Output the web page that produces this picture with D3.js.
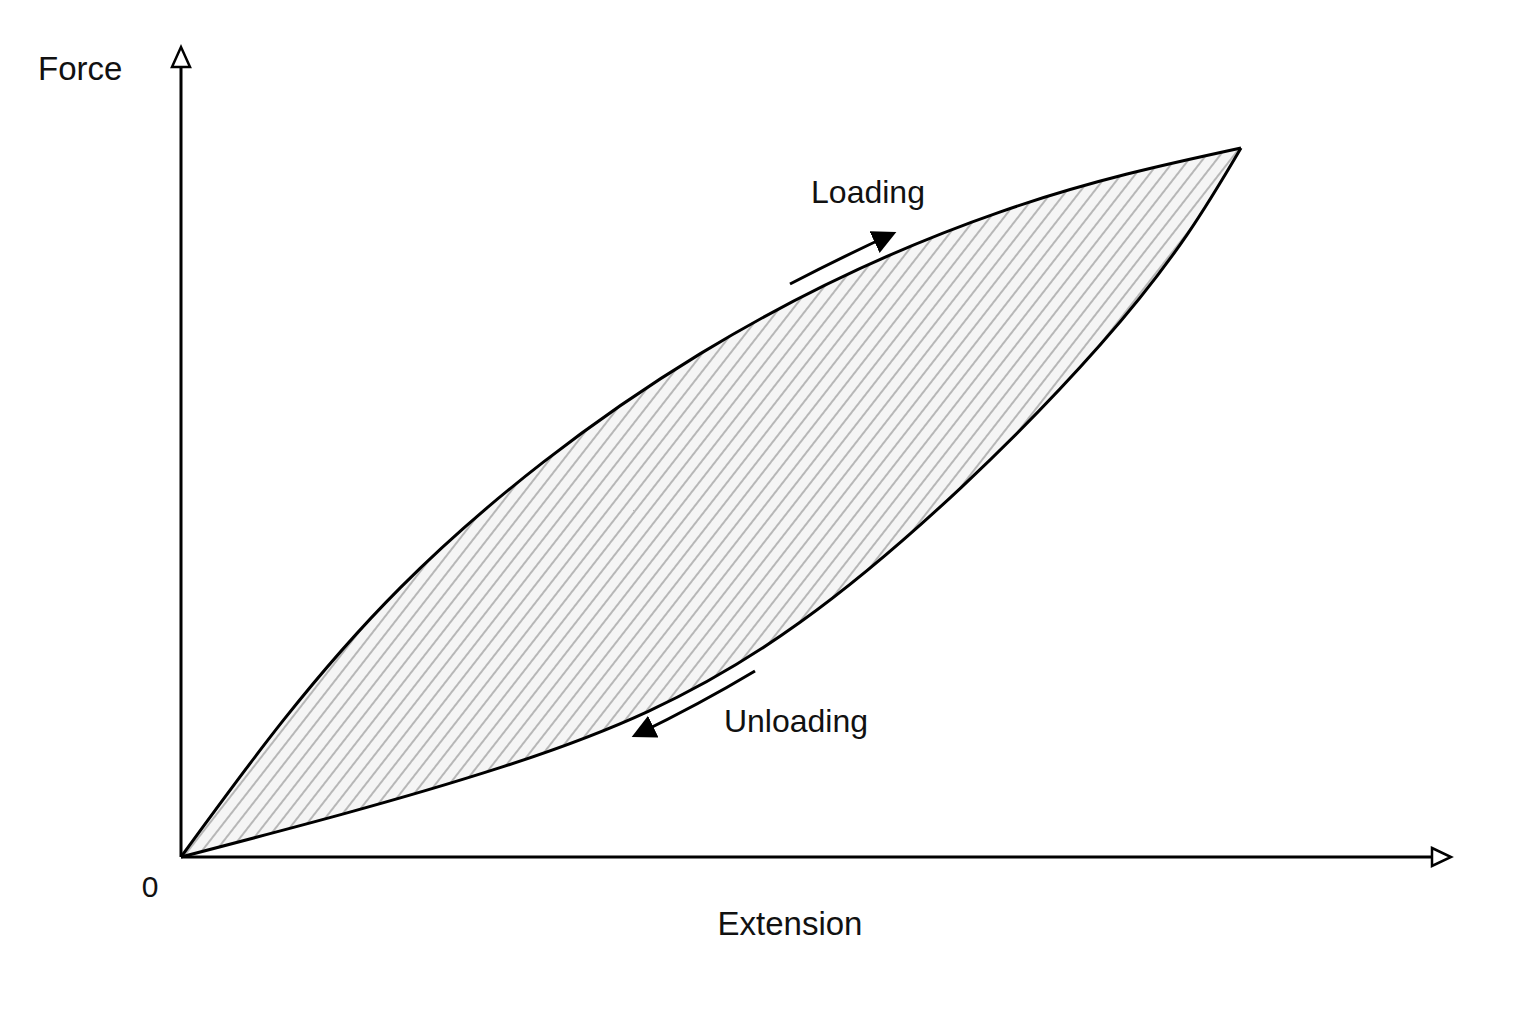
<!DOCTYPE html>
<html><head><meta charset="utf-8">
<script src="https://cdn.jsdelivr.net/npm/d3@7"></script>
<style>body{margin:0;background:#fff}text{font-family:"Liberation Sans",Arial,sans-serif;fill:#111}</style>
</head><body><svg id="c" width="1536" height="1024"></svg>
<script>
const loadingX=[0,20.7,49.0,77.3,100];
const loadingY=[0,38.0,71.0,91.0,100];
const unloadingX=[100,86.7,58.4,30.1,0];
const unloadingY=[100,72.2,33.1,12.6,0];
const labels={x:"Extension",y:"Force",origin:"0",load:"Loading",unload:"Unloading"};

const svg=d3.select("#c");
const x=d3.scaleLinear().domain([0,100]).range([181,1241]);
const y=d3.scaleLinear().domain([0,100]).range([857,148]);
const defs=svg.append("defs");
const pat=defs.append("pattern").attr("id","h").attr("patternUnits","userSpaceOnUse")
 .attr("width",11).attr("height",11).attr("patternTransform","rotate(38)");
pat.append("rect").attr("width",11).attr("height",11).attr("fill","#f5f5f5");
pat.append("line").attr("x1",1).attr("x2",1).attr("y1",0).attr("y2",11).attr("stroke","#a8a8a8").attr("stroke-width",1.6);
defs.append("marker").attr("id","ah").attr("viewBox","0 0 10 10").attr("refX",8).attr("refY",5)
 .attr("markerWidth",24).attr("markerHeight",24).attr("markerUnits","userSpaceOnUse").attr("orient","auto")
 .append("path").attr("d","M0,0L10,5L0,10z").attr("fill","#000");

const up=loadingX.map((v,i)=>[x(v),y(loadingY[i])]);
const dn=unloadingX.map((v,i)=>[x(v),y(unloadingY[i])]);
const line=d3.line().curve(d3.curveNatural);
svg.append("path").attr("d",line(up)+"L"+line(dn).slice(1)+"Z").attr("fill","url(#h)").attr("stroke","none");
svg.append("path").attr("d",line(up)).attr("fill","none").attr("stroke","#000").attr("stroke-width",3);
svg.append("path").attr("d",line(dn)).attr("fill","none").attr("stroke","#000").attr("stroke-width",3);

svg.append("line").attr("x1",181).attr("y1",857).attr("x2",1432).attr("y2",857).attr("stroke","#000").attr("stroke-width",3);
svg.append("line").attr("x1",181).attr("y1",857).attr("x2",181).attr("y2",68).attr("stroke","#000").attr("stroke-width",3);
svg.append("path").attr("d","M1432,848L1451,857L1432,866Z").attr("fill","#fff").attr("stroke","#000").attr("stroke-width",2.5);
svg.append("path").attr("d","M172,67L181,47L190,67Z").attr("fill","#fff").attr("stroke","#000").attr("stroke-width",2.5);

svg.append("text").attr("x",38).attr("y",80).attr("font-size",33).text(labels.y);
svg.append("text").attr("x",150).attr("y",897).attr("font-size",30).attr("text-anchor","middle").text(labels.origin);
svg.append("text").attr("x",790).attr("y",935).attr("font-size",33).attr("text-anchor","middle").text(labels.x);
svg.append("text").attr("x",868).attr("y",203).attr("font-size",32).attr("text-anchor","middle").text(labels.load);
svg.append("text").attr("x",796).attr("y",732).attr("font-size",32).attr("text-anchor","middle").text(labels.unload);

svg.append("path").attr("d","M790,284Q840,258 892,234").attr("fill","none").attr("stroke","#000").attr("stroke-width",3).attr("marker-end","url(#ah)");
svg.append("path").attr("d","M755,671Q700,704 636,735").attr("fill","none").attr("stroke","#000").attr("stroke-width",3).attr("marker-end","url(#ah)");
</script></body></html>
